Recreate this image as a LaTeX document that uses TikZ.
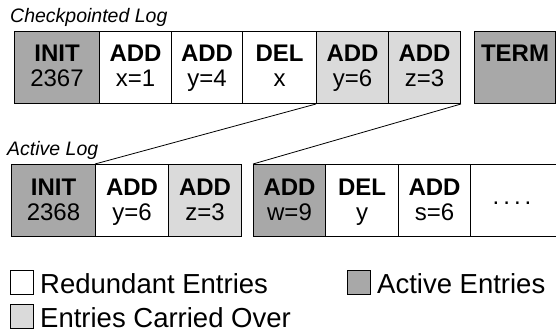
\documentclass[tikz,border=0pt]{standalone}
\usepackage{fontspec}
\setmainfont{Liberation Sans}
\definecolor{darkg}{HTML}{A8A8A8}
\definecolor{lightg}{HTML}{DADADA}
\tikzset{
  cellbox/.style={draw=black, line width=1pt, inner sep=0pt, anchor=north west, minimum height=72pt},
  kw/.style={anchor=base, inner sep=0pt, font=\fontsize{24}{26}\selectfont\bfseries},
  val/.style={anchor=base, inner sep=0pt, font=\fontsize{24}{26}\selectfont},
  title/.style={anchor=base west, inner sep=0pt, font=\fontsize{19.5}{22}\selectfont\itshape},
  legbox/.style={draw=black, line width=0.8pt, inner sep=0pt, anchor=north west, minimum width=23pt, minimum height=24pt},
  legtext/.style={anchor=base west, inner sep=0pt, font=\fontsize{27.5}{30}\selectfont},
  link/.style={draw=black, line width=0.8pt}
}
% name, x1, x2, ytop, fill, keyword, value
\newcommand\logcell[7]{%
  \node[cellbox, fill=#5, minimum width={(#3-#2)*1pt}] (#1) at (#2,#4) {};
  \node[kw] (#1k) at ([yshift=-31pt]#1.north) {#6};
  \node[val] (#1v) at ([yshift=-56pt]#1.north) {#7};
}
\begin{document}
\begin{tikzpicture}[x=1pt,y=-1pt]
\useasboundingbox (0,0) rectangle (556,334);
\node[title] (ttop) at (10,23) {Checkpointed Log};
\logcell{c1}{14}{99}{31}{darkg}{INIT}{2367}
\logcell{c2}{99}{171}{31}{white}{ADD}{x=1}
\logcell{c3}{171}{242}{31}{white}{ADD}{y=4}
\logcell{c4}{242}{316}{31}{white}{DEL}{x}
\logcell{c5}{316}{388}{31}{lightg}{ADD}{y=6}
\logcell{c6}{388}{460}{31}{lightg}{ADD}{z=3}
\node[cellbox, fill=darkg, minimum width=81pt] (c7) at (474,31) {};
\node[kw] (c7k) at ([yshift=-31pt]c7.north) {TERM};

\node[title] (tbot) at (7,155) {Active Log};
\logcell{b1}{11}{95}{164}{darkg}{INIT}{2368}
\logcell{b2}{95}{168}{164}{white}{ADD}{y=6}
\logcell{b3}{168}{241}{164}{lightg}{ADD}{z=3}
\logcell{b4}{253}{325}{164}{darkg}{ADD}{w=9}
\logcell{b5}{325}{398}{164}{white}{DEL}{y}
\logcell{b6}{398}{470}{164}{white}{ADD}{s=6}
\node[cellbox, fill=white, minimum width=100pt] (b7) at (470,164) {};
\node[val, anchor=center] (b7t) at (512,203) {.\,.\,.\,.};

\draw[link] (c5.south west) -- (b2.north west);
\draw[link] (c6.south east) -- (b4.north west);

\node[legbox, fill=white] (l1) at (10,270) {};
\node[legtext] (l1t) at (40,293) {Redundant Entries};
\node[legbox, fill=lightg] (l2) at (10,304) {};
\node[legtext] (l2t) at (40,327) {Entries Carried Over};
\node[legbox, fill=darkg] (l3) at (347,270) {};
\node[legtext] (l3t) at (377,293) {Active Entries};
\end{tikzpicture}
\end{document}
